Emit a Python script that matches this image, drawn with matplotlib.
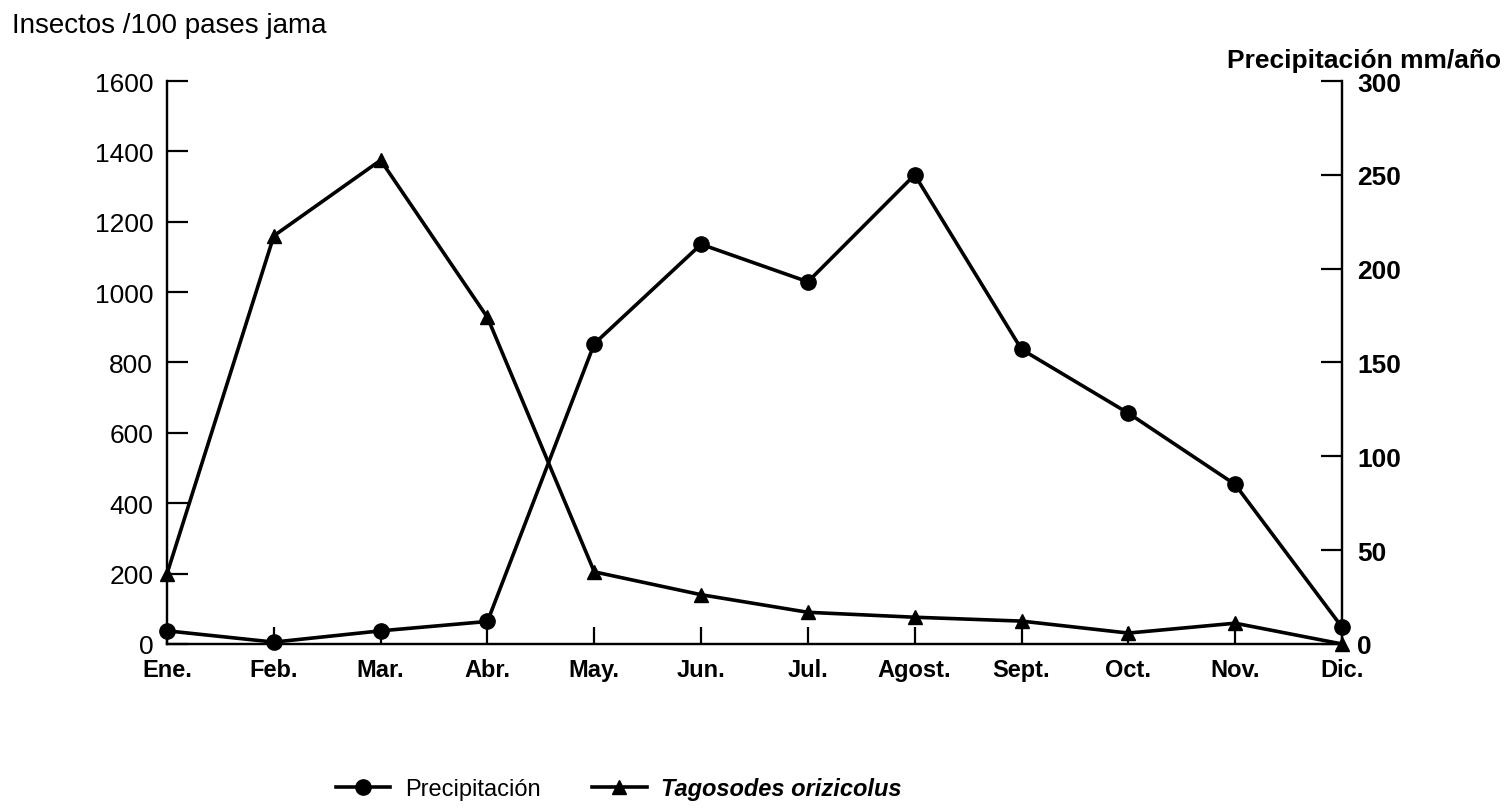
import matplotlib
matplotlib.use("Agg")
import matplotlib.pyplot as plt
from matplotlib.lines import Line2D

plt.rcParams['font.family'] = ['Liberation Sans', 'DejaVu Sans']

months = ["Ene.", "Feb.", "Mar.", "Abr.", "May.", "Jun.", "Jul.",
          "Agost.", "Sept.", "Oct.", "Nov.", "Dic."]
precipitacion = [7, 1, 7, 12, 160, 213, 193, 250, 157, 123, 85, 9]
tagosodes = [200, 1160, 1375, 928, 205, 140, 90, 76, 65, 31, 59, 0]
left_ticks = [0, 200, 400, 600, 800, 1000, 1200, 1400, 1600]
right_ticks = [0, 50, 100, 150, 200, 250, 300]

fig = plt.figure(figsize=(15.09, 8.12), dpi=100)
ax = fig.add_axes([0.1107, 0.2057, 0.7786, 0.6933])
ax2 = ax.twinx()

x = list(range(len(months)))
ax.plot(x, tagosodes, color='black', lw=2.6, marker='^', ms=10, clip_on=False, zorder=3)
ax2.plot(x, precipitacion, color='black', lw=2.6, marker='o', ms=11, clip_on=False, zorder=3)

ax.set_xlim(0, 11)
ax.set_ylim(0, 1600)
ax2.set_ylim(0, 300)

for a in (ax, ax2):
    a.spines['top'].set_visible(False)
    for s in a.spines.values():
        s.set_linewidth(1.6)

ax.set_xticks(x)
ax.set_xticklabels(months, fontsize=17, fontweight='bold')
ax.set_yticks(left_ticks)
ax.set_yticklabels([str(t) for t in left_ticks], fontsize=19)
ax2.set_yticks(right_ticks)
ax2.set_yticklabels([str(t) for t in right_ticks], fontsize=19, fontweight='bold')

ax.tick_params(axis='x', direction='in', length=12, width=1.6, pad=10)
ax.tick_params(axis='y', direction='in', length=15, width=1.6, pad=10)
ax2.tick_params(axis='y', direction='in', length=15, width=1.6, pad=11)

fig.text(0.008, 0.968, "Insectos /100 pases jama", fontsize=20, ha='left', va='center')
fig.text(0.995, 0.925, "Precipitación mm/año", fontsize=19, fontweight='bold',
         ha='right', va='center')

handles = [Line2D([], [], color='black', lw=2.6, marker='o', ms=11),
           Line2D([], [], color='black', lw=2.6, marker='^', ms=10)]
leg = fig.legend(handles, ["Precipitación", "Tagosodes orizicolus"], ncol=2,
                 loc='center', bbox_to_anchor=(0.41, 0.028), frameon=False,
                 fontsize=17, handlelength=2.3, handletextpad=0.6, columnspacing=2.2)
leg.get_texts()[1].set_fontstyle('italic')
leg.get_texts()[1].set_fontweight('bold')

fig.savefig("out.png", dpi=100)
